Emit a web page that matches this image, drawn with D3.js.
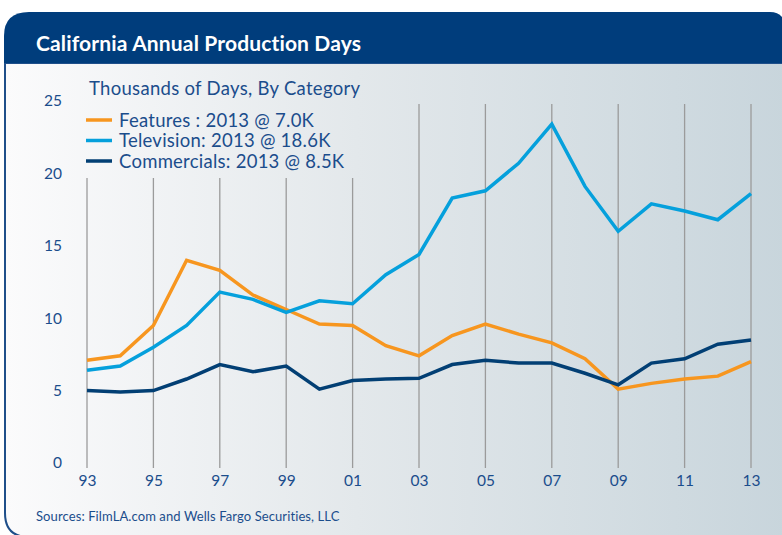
<!DOCTYPE html>
<html>
<head>
<meta charset="utf-8">
<script src="https://cdn.jsdelivr.net/npm/d3@7"></script>
<style>
  html, body { margin: 0; padding: 0; background: #fff; }
  svg { display: block; font-family: Lato, "Noto Sans", sans-serif; }
</style>
</head>
<body>
<svg width="782" height="535"></svg>
<script>
/* Data */
const years = d3.range(1993, 2014);
const features = [7.1, 7.4, 9.5, 14.0, 13.3, 11.6, 10.6, 9.6, 9.5, 8.1, 7.4, 8.8, 9.6, 8.9, 8.3, 7.2, 5.1, 5.5, 5.8, 6.0, 7.0];
const television = [6.4, 6.7, 8.0, 9.5, 11.8, 11.3, 10.4, 11.2, 11.0, 13.0, 14.4, 18.3, 18.8, 20.7, 23.4, 19.1, 16.0, 17.9, 17.4, 16.8, 18.6];
const commercials = [5.0, 4.9, 5.0, 5.8, 6.8, 6.3, 6.7, 5.1, 5.7, 5.8, 5.85, 6.8, 7.1, 6.9, 6.9, 6.2, 5.4, 6.9, 7.2, 8.2, 8.5];
const seriesNames = ['Features : 2013 @ 7.0K', 'Television: 2013 @ 18.6K', 'Commercials: 2013 @ 8.5K'];
const xTickYears = d3.range(1993, 2014, 2);
const yTicks = [0, 5, 10, 15, 20, 25];

const title = 'California Annual Production Days';
const subtitle = 'Thousands of Days, By Category';
const source = 'Sources: FilmLA.com and Wells Fargo Securities, LLC';

/* Colors */
const navy = '#003d7c';
const textBlue = '#1b4d8c';
const lineColors = ['#f7961f', '#05a0dc', '#023f74'];

/* SVG */
const svg = d3.select('svg');
const W = 782, H = 535;

const defs = svg.append('defs');
const grad = defs.append('linearGradient').attr('id', 'bg').attr('x1', 0).attr('x2', 1).attr('y1', 0).attr('y2', 0);
grad.append('stop').attr('offset', '0%').attr('stop-color', '#fbfbfc');
grad.append('stop').attr('offset', '45%').attr('stop-color', '#e3e8eb');
grad.append('stop').attr('offset', '100%').attr('stop-color', '#c8d5dc');

/* Panel */
const rad = 24, panelLeft = 5, panelTop = 12, headH = 51;
svg.append('path')
  .attr('d', `M${panelLeft},${panelTop + headH} V${H - rad + 2} Q${panelLeft},${H + 2} ${panelLeft + rad},${H + 2} H${W + 5} V${panelTop + headH} Z`)
  .attr('fill', 'url(#bg)')
  .attr('stroke', '#1f4f8a')
  .attr('stroke-width', 2);

svg.append('path')
  .attr('d', `M${panelLeft - 1},${panelTop + headH} V${panelTop + rad} Q${panelLeft - 1},${panelTop} ${panelLeft + rad},${panelTop} H${W - 12} Q${W - 2},${panelTop} ${W + 2},${panelTop + 8} V${panelTop + headH} Z`)
  .attr('fill', navy);

svg.append('text')
  .attr('x', 36).attr('y', 51)
  .attr('fill', '#fff')
  .attr('font-size', 21)
  .attr('font-weight', 700)
  .attr('letter-spacing', 0.15)
  .text(title);

/* Scales */
const x = d3.scaleLinear().domain([1993, 2013]).range([87, 751]);
const y = d3.scaleLinear().domain([0, 25]).range([463, 101]);

/* Grid lines */
svg.append('g')
  .selectAll('line').data(xTickYears)
  .enter().append('line')
  .attr('x1', d => x(d)).attr('x2', d => x(d))
  .attr('y1', d => d <= 2001 ? 178 : 104)
  .attr('y2', 468)
  .attr('stroke', '#9b9b9b')
  .attr('stroke-width', 1.3);

/* Axes */
const yAxis = svg.append('g')
  .attr('transform', 'translate(62,0)')
  .call(d3.axisLeft(y).tickValues(yTicks).tickSize(0).tickPadding(0));
yAxis.select('.domain').remove();
yAxis.selectAll('text')
  .attr('fill', textBlue)
  .attr('font-size', 15.5)
  .attr('font-family', 'Lato, "Noto Sans", sans-serif');

const xAxis = svg.append('g')
  .attr('transform', 'translate(0,475)')
  .call(d3.axisBottom(x).tickValues(xTickYears).tickSize(0).tickPadding(0)
    .tickFormat(d => String(d).slice(2)));
xAxis.select('.domain').remove();
xAxis.selectAll('text')
  .attr('fill', textBlue)
  .attr('font-size', 15.5)
  .attr('font-family', 'Lato, "Noto Sans", sans-serif');

/* Lines */
const line = d3.line()
  .x((d, i) => x(years[i]))
  .y(d => y(d));

svg.append('g')
  .selectAll('path').data([features, television, commercials])
  .enter().append('path')
  .attr('d', line)
  .attr('fill', 'none')
  .attr('stroke', (d, i) => lineColors[i])
  .attr('stroke-width', 3.5)
  .attr('stroke-linejoin', 'miter');

/* Legend */
svg.append('text')
  .attr('x', 89).attr('y', 95)
  .attr('fill', textBlue)
  .attr('font-size', 18.5)
  .attr('letter-spacing', 0.3)
  .text(subtitle);

const legend = svg.append('g')
  .selectAll('g').data(seriesNames)
  .enter().append('g')
  .attr('transform', (d, i) => `translate(86,${120 + i * 20.5})`);
legend.append('line')
  .attr('x1', 0).attr('x2', 26)
  .attr('stroke', (d, i) => lineColors[i])
  .attr('stroke-width', 3.5);
legend.append('text')
  .attr('x', 33).attr('y', 6.5)
  .attr('fill', textBlue)
  .attr('font-size', 18.5)
  .attr('letter-spacing', 0.25)
  .text(d => d);

/* Source */
svg.append('text')
  .attr('x', 36).attr('y', 521)
  .attr('fill', textBlue)
  .attr('font-size', 13)
  .attr('letter-spacing', 0.1)
  .text(source);
</script>
</body>
</html>
